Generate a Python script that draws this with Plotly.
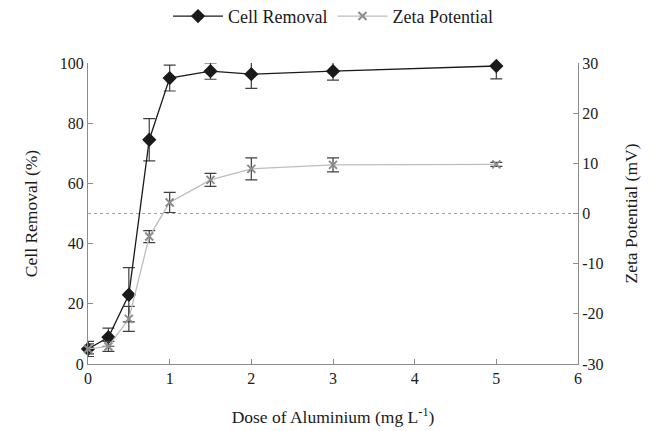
import plotly.graph_objects as go

dose = [0, 0.25, 0.5, 0.75, 1, 1.5, 2, 3, 5]
cell_removal = [5.0, 8.9, 23.0, 74.5, 95.0, 97.3, 96.3, 97.3, 99.0]
cell_err = [2.5, 3.0, 9.0, 7.0, 4.3, 2.7, 4.7, 3.0, 4.3]
zeta = [-27.0, -26.5, -21.0, -4.6, 2.2, 6.7, 8.9, 9.7, 9.8]
zeta_err = [1.0, 1.0, 2.5, 1.2, 2.0, 1.3, 2.2, 1.4, 0.4]

zeta_ticks = [-30, -20, -10, 0, 10, 20, 30]
zeta_ticktext = ["-30", "-20", "-10", "0", "10", "20", "30"]

font_family = "Times New Roman, Liberation Serif, Times, serif"

fig = go.Figure()

fig.add_trace(go.Scatter(
    x=dose, y=zeta, name="Zeta Potential", yaxis="y2",
    mode="lines+markers",
    line=dict(color="#bdbdbd", width=1.3),
    marker=dict(symbol="x-thin", size=8, color="#8c8c8c", line=dict(width=2, color="#8c8c8c")),
    error_y=dict(type="data", array=zeta_err, color="#404040", thickness=1.2, width=6),
    cliponaxis=False,
))

fig.add_trace(go.Scatter(
    x=dose, y=cell_removal, name="Cell Removal",
    mode="lines+markers",
    line=dict(color="#1a1a1a", width=1.3),
    marker=dict(symbol="diamond", size=11, color="#1a1a1a"),
    error_y=dict(type="data", array=cell_err, color="#404040", thickness=1.2, width=6),
    cliponaxis=False,
))

# zero line of zeta potential
fig.add_shape(type="line", xref="paper", x0=0, x1=1, yref="y2", y0=0, y1=0,
              line=dict(color="#a0a0a0", width=1, dash="dot"), layer="below")

fig.update_layout(
    width=654, height=431,
    margin=dict(l=88, r=76, t=63, b=67, autoexpand=False),
    paper_bgcolor="white", plot_bgcolor="white",
    font=dict(family=font_family, size=16, color="#1a1a1a"),
    showlegend=True,
    legend=dict(orientation="h", x=0.5, xanchor="center",
                yref="container", y=0.962, yanchor="middle",
                traceorder="reversed", font=dict(size=18, family=font_family), itemwidth=50),
    xaxis=dict(range=[0, 6], dtick=1, tick0=0, showgrid=False, zeroline=False,
               showline=True, linecolor="#8c8c8c", linewidth=1,
               ticks="inside", ticklen=5, tickcolor="#8c8c8c",
               title=dict(text="Dose of Aluminium (mg L<sup>-1</sup>)", standoff=24,
                          font=dict(size=17.5, family=font_family)),
               tickfont=dict(size=16, family=font_family)),
    yaxis=dict(range=[0, 100], dtick=20, showgrid=False, zeroline=False,
               showline=True, linecolor="#8c8c8c", linewidth=1,
               ticks="inside", ticklen=5, tickcolor="#8c8c8c",
               title=dict(text="Cell Removal (%)", standoff=17,
                          font=dict(size=17.5, family=font_family)),
               tickfont=dict(size=16, family=font_family)),
    yaxis2=dict(range=[-30, 30], overlaying="y", side="right",
                tickmode="array", tickvals=zeta_ticks, ticktext=zeta_ticktext,
                showgrid=False, zeroline=False,
                showline=True, linecolor="#8c8c8c", linewidth=1,
                ticks="inside", ticklen=5, tickcolor="#8c8c8c",
                title=dict(text="Zeta Potential (mV)", standoff=22,
                           font=dict(size=17.5, family=font_family)),
                tickfont=dict(size=16, family=font_family)),
)

fig.write_html("out.html")
